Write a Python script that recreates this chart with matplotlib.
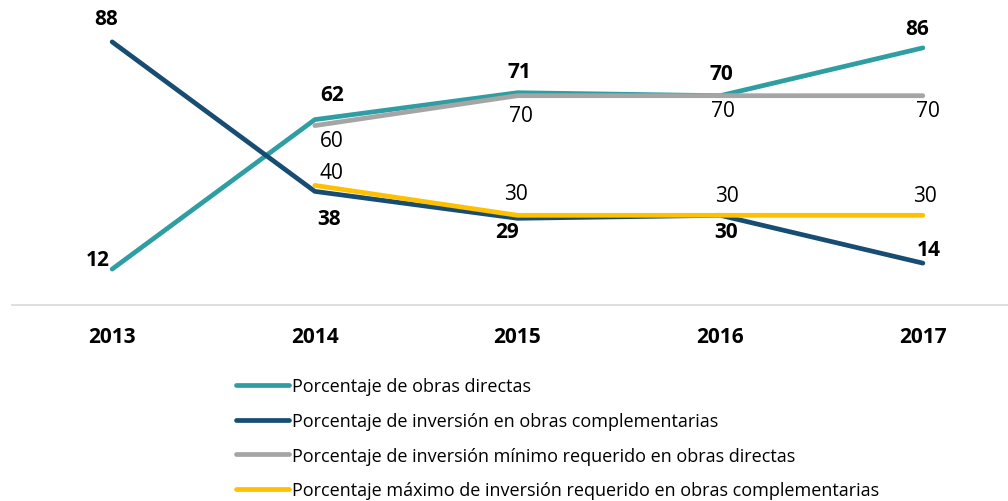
import matplotlib
matplotlib.use("Agg")
import matplotlib.pyplot as plt

anios = ["2013", "2014", "2015", "2016", "2017"]
obras_directas = [12, 62, 71, 70, 86]
obras_complementarias = [88, 38, 29, 30, 14]
minimo_directas = [None, 60, 70, 70, 70]
maximo_complementarias = [None, 40, 30, 30, 30]

etiquetas = [
    "Porcentaje de obras directas",
    "Porcentaje de inversión en obras complementarias",
    "Porcentaje de inversión mínimo requerido en obras directas",
    "Porcentaje máximo de inversión requerido en obras complementarias",
]

c_teal = "#2E9EA3"
c_navy = "#174D73"
c_gris = "#A5A5A5"
c_amar = "#FFC000"

plt.rcParams['font.family'] = ['Open Sans', 'DejaVu Sans']

fig = plt.figure(figsize=(10.08, 5.02), dpi=100)
ax = fig.add_axes([12/1008, 196/502, 996/1008, 299/502])

x = list(range(len(anios)))
x2 = x[1:]

lw = 3.4
l1, = ax.plot(x, obras_directas, color=c_teal, lw=lw, solid_capstyle='round')
l2, = ax.plot(x, obras_complementarias, color=c_navy, lw=lw, solid_capstyle='round')
l3, = ax.plot(x2, minimo_directas[1:], color=c_gris, lw=lw, solid_capstyle='round')
l4, = ax.plot(x2, maximo_complementarias[1:], color=c_amar, lw=lw, solid_capstyle='round')

fs = 15

# desplazamientos de etiquetas en pixeles (dx, dy hacia arriba)
off_directas = [(-14, 10), (17, 25), (2, 21), (1, 22), (-6, 19)]
off_complem = [(-6, 23), (14, -27), (-10, -13), (6, -16), (6, 14)]
off_minimo = [None, (17, -15), (3, -20), (3, -15), (5, -15)]
off_maximo = [None, (17, 13), (-2, 22), (7, 20), (2, 20)]

def rotular(valores, offsets, negrita):
    for i, v in enumerate(valores):
        if v is None:
            continue
        ax.annotate(str(v), (i, v), xytext=offsets[i], textcoords='offset pixels',
                    ha='center', va='center', fontsize=fs,
                    fontweight='bold' if negrita else 'normal')

rotular(obras_directas, off_directas, True)
rotular(obras_complementarias, off_complem, True)
rotular(minimo_directas, off_minimo, False)
rotular(maximo_complementarias, off_maximo, False)

ax.set_xlim(-0.494, 4.42)
ax.set_ylim(0, 100)
ax.set_xticks(x)
ax.set_xticklabels(anios, fontsize=fs, fontweight='bold')
ax.tick_params(axis='x', length=0, pad=15)
ax.set_yticks([])
for s in ['top', 'right', 'left']:
    ax.spines[s].set_visible(False)
ax.spines['bottom'].set_color('#D9D9D9')
ax.spines['bottom'].set_linewidth(1.2)

fig.legend([l1, l2, l3, l4], etiquetas, loc='upper left',
           bbox_to_anchor=(236/1008, 123.5/502), frameon=False, fontsize=13,
           handlelength=2.95, handletextpad=0.15, labelspacing=0.92, borderpad=0,
           borderaxespad=0)

fig.savefig("out.png", dpi=100)
